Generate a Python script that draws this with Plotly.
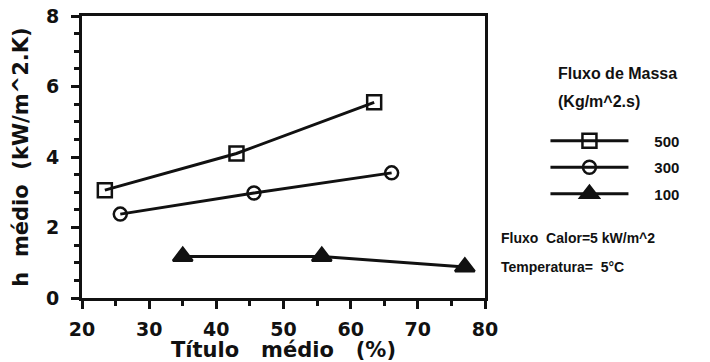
import plotly.graph_objects as go

series_names = ["500", "300", "100"]
x_500 = [23.4, 43.0, 63.5]
y_500 = [3.06, 4.10, 5.55]
x_300 = [25.7, 45.6, 66.1]
y_300 = [2.38, 2.98, 3.55]
x_100 = [35.0, 55.7, 77.0]
y_100 = [1.18, 1.18, 0.88]

FONT = "Liberation Sans, Arial, sans-serif"
FONT2 = "DejaVu Sans, sans-serif"
INK = "#111111"
NB = "\u00a0" * 5

fig = go.Figure()
styles = [
    dict(symbol="square-open", size=14),
    dict(symbol="circle-open", size=13),
    dict(symbol="triangle-up", size=17),
]
for name, xs, ys, st in zip(series_names, [x_500, x_300, x_100], [y_500, y_300, y_100], styles):
    fig.add_trace(go.Scatter(
        x=xs, y=ys, name=NB + name, mode="lines+markers", legendgroup=name,
        line=dict(color=INK, width=3),
        marker=dict(symbol=st["symbol"], size=st["size"], color=INK,
                    line=dict(color=INK, width=2.5)),
    ))

axis_common = dict(
    showline=True, linecolor=INK, linewidth=3, mirror=True,
    ticks="outside", tickcolor=INK, tickwidth=3, ticklen=8,
    showgrid=False, zeroline=False, automargin=False,
    tickfont=dict(family=FONT2, size=19, color=INK, weight="bold"),
)
fig.update_xaxes(range=[20, 80], dtick=10, tick0=20, ticklabelstandoff=4,
                 minor=dict(dtick=5, ticks="outside", ticklen=5, tickcolor=INK, tickwidth=3),
                 title=dict(text="Título   médio   (%)", standoff=4,
                            font=dict(family=FONT2, size=21, color=INK, weight="bold")),
                 **axis_common)
fig.update_yaxes(range=[0, 8], dtick=2, tick0=0, ticklabelstandoff=8,
                 minor=dict(dtick=0.5, ticks="outside", ticklen=5, tickcolor=INK, tickwidth=3),
                 title=dict(text="h  médio  (kW/m^2.K)", standoff=12,
                            font=dict(family=FONT2, size=21, color=INK, weight="bold")),
                 **axis_common)

fig.update_layout(
    width=710, height=362,
    margin=dict(l=82, r=225, t=16, b=64),
    paper_bgcolor="white", plot_bgcolor="white",
    showlegend=True,
    legend=dict(x=1.15, y=0.615, xanchor="left", yanchor="top",
                itemwidth=78, tracegroupgap=4, bgcolor="rgba(0,0,0,0)",
                font=dict(family=FONT, size=15, color=INK, weight="bold")),
)

ann = dict(xref="paper", yref="paper", showarrow=False, xanchor="left", yanchor="middle",
           font=dict(family=FONT, size=16, color=INK, weight="bold"))
fig.add_annotation(x=1.175, y=(298 - 73) / 282, text="Fluxo de Massa", **ann)
fig.add_annotation(x=1.175, y=(298 - 101) / 282, text="(Kg/m^2.s)", **ann)
ann["font"] = dict(family=FONT, size=14, color=INK, weight="bold")
fig.add_annotation(x=1.035, y=(298 - 238) / 282, text="Fluxo  Calor=5 kW/m^2", **ann)
fig.add_annotation(x=1.035, y=(298 - 267) / 282, text="Temperatura=  5°C", **ann)

fig.write_html("out.html")
